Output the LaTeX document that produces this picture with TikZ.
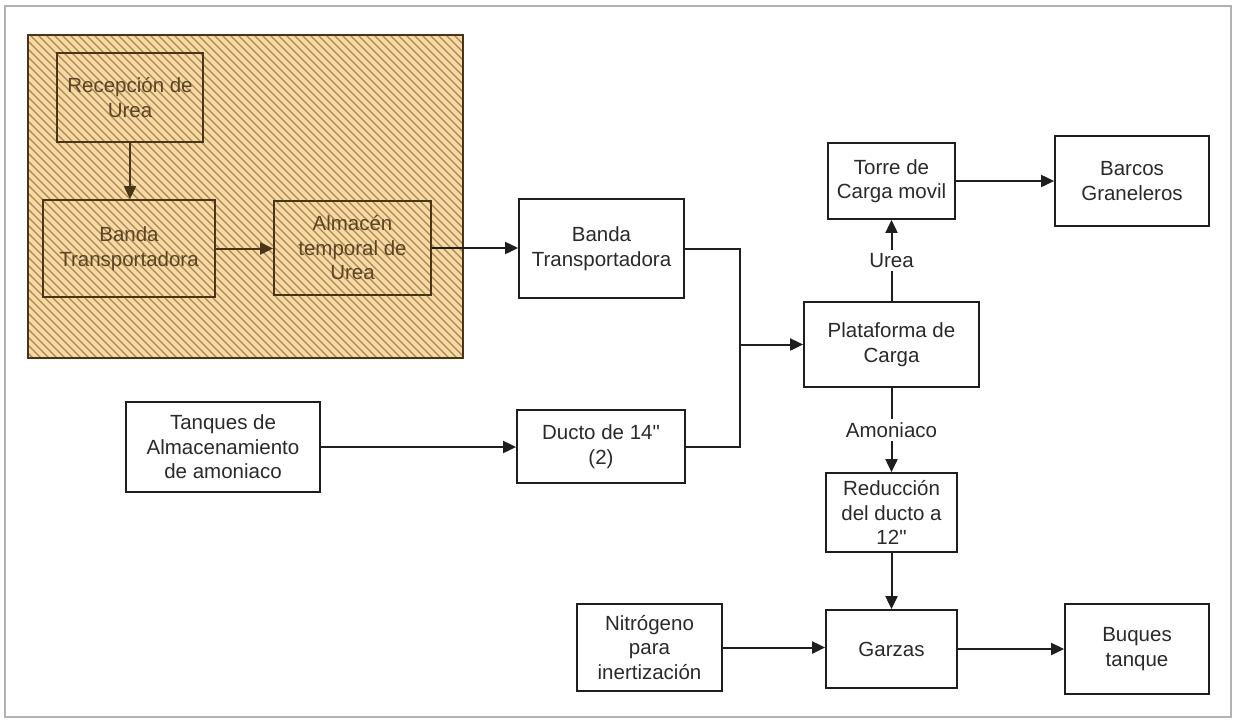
\documentclass[tikz,border=0pt]{standalone}
\usepackage{fontspec}
\setmainfont{Liberation Sans}
\usetikzlibrary{arrows.meta}
\newcommand\straightdq{\XeTeXglyph\XeTeXcharglyph"22\relax}
\definecolor{hatchfill}{HTML}{F7DAA3}
\definecolor{hatchline}{HTML}{A88558}
\definecolor{brownbox}{HTML}{4A3418}
\definecolor{browntext}{HTML}{5C4424}
\definecolor{txt}{HTML}{2A2A2A}
\definecolor{ln}{HTML}{1E1E1E}
\begin{document}
\begin{tikzpicture}[x=1pt,y=-1pt,
  box/.style={draw=ln, line width=1.8pt, align=center,
    font=\fontsize{20.5}{24.5}\selectfont, text=txt, inner sep=0pt},
  ibox/.style={box, draw=brownbox, text=browntext},
  conn/.style={line width=2pt, draw=ln},
  arr/.style={conn, -{Triangle[length=13pt,width=12pt]}},
  iarr/.style={arr, draw=brownbox, fill=brownbox},
  lbl/.style={fill=white, inner sep=3pt, font=\fontsize{20.5}{24.5}\selectfont, text=txt}
]
% background and frame
\fill[white] (0,0) rectangle (1238,721);
\useasboundingbox (0,0) rectangle (1238,721);
\draw[gray!60, line width=1.5pt] (5,6) rectangle (1231,717);

% hatched area
\fill[hatchfill] (28,35) rectangle (463,358);
\begin{scope}
  \clip (28,35) rectangle (463,358);
  \foreach \c in {-330,-322,...,470}
    \draw[hatchline, line width=1.3pt] (\c,35) -- ++(330,330);
\end{scope}
\draw[brownbox, line width=1.8pt] (28,35) rectangle (463,358);

% inner boxes
\node[ibox, minimum width=146, minimum height=89] (rec) at (130,97.5) {Recepción de\\Urea};
\node[ibox, minimum width=172, minimum height=97] (band1) at (129,248.5) {Banda\\Transportadora};
\node[ibox, minimum width=157, minimum height=94] (alm) at (352.5,248) {Almacén\\temporal de\\Urea};

% other boxes
\node[box, minimum width=165, minimum height=99] (band2) at (601.5,248.5) {Banda\\Transportadora};
\node[box, minimum width=127, minimum height=76] (torre) at (891.5,181) {Torre de\\Carga movil};
\node[box, minimum width=154, minimum height=90] (barcos) at (1132,181) {Barcos\\Graneleros};
\node[box, minimum width=175, minimum height=85] (plat) at (891.5,344.5) {Plataforma de\\Carga};
\node[box, minimum width=194, minimum height=90] (tanq) at (223,447) {Tanques de\\Almacenamiento\\de amoniaco};
\node[box, minimum width=168, minimum height=73] (ducto) at (601,446.5) {Ducto de 14\straightdq\\(2)};
\node[box, minimum width=131, minimum height=79] (red) at (891.5,512.5) {Reducción\\del ducto a\\12\straightdq};
\node[box, minimum width=145, minimum height=87] (nit) at (649.5,647.5) {Nitrógeno\\para\\inertización};
\node[box, minimum width=131, minimum height=78] (garz) at (891.5,649) {Garzas};
\node[box, minimum width=144, minimum height=90] (buq) at (1137,649) {Buques\\tanque};

% connectors
\draw[iarr] (rec.south) -- (rec.south |- band1.north);
\draw[iarr] (band1.east) -- (band1.east -| alm.west);
\draw[arr] (alm.east) -- (alm.east -| band2.west);

\coordinate (j) at (740,344.5);
\draw[conn] (band2.east) -| (j);
\draw[conn] (ducto.east) -| (j);
\draw[arr] (j) -- (plat.west);

\draw[arr] (tanq.east) -- (tanq.east -| ducto.west);

\draw[arr] (plat.north) -- node[lbl] (lurea) {Urea} (torre.south);
\draw[arr] (torre.east) -- (barcos.west);
\draw[arr] (plat.south) -- node[lbl] (lamon) {Amoniaco} (red.north);
\draw[arr] (red.south) -- (garz.north);
\draw[arr] (nit.east) -- (nit.east -| garz.west);
\draw[arr] (garz.east) -- (buq.west);
\end{tikzpicture}
\end{document}
